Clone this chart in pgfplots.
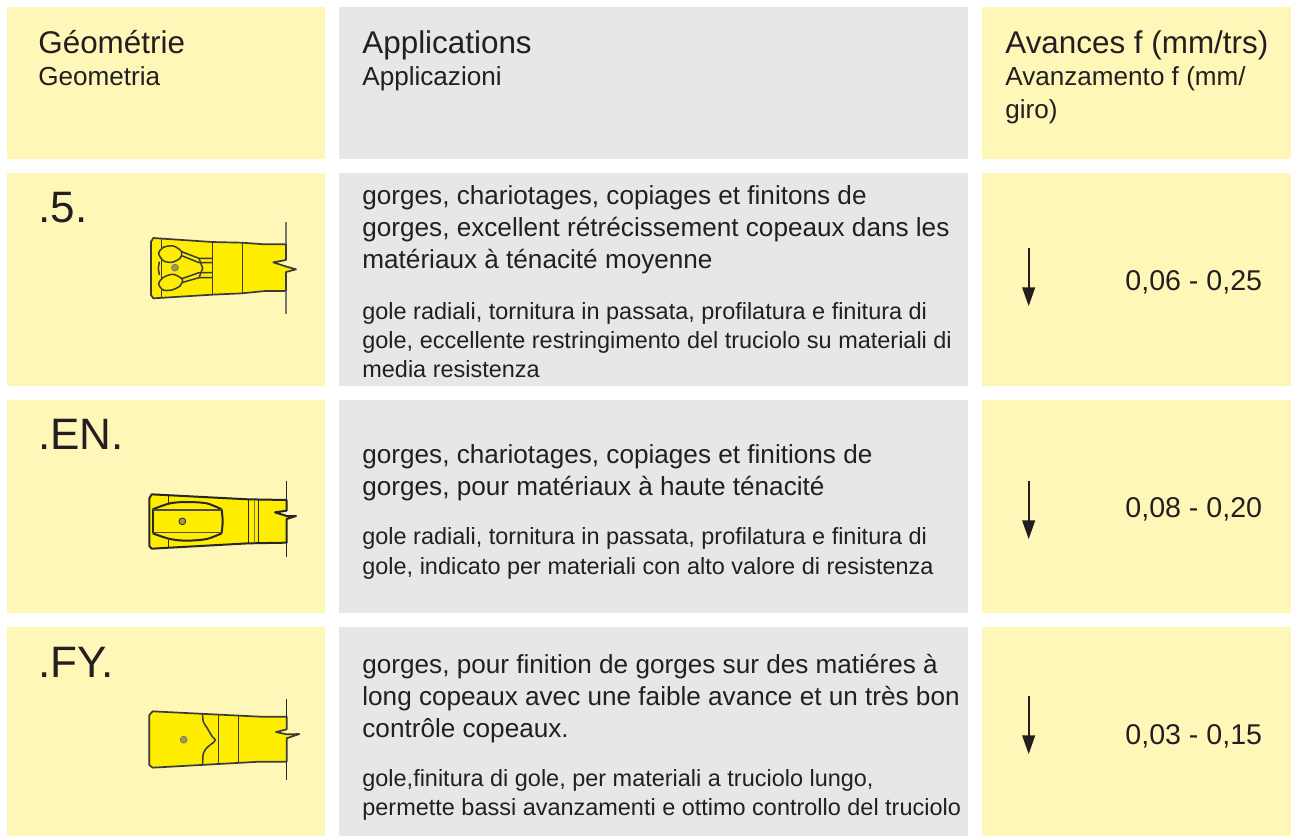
\documentclass[border=0pt]{standalone}
\usepackage{pgfplots}
\pgfplotsset{compat=1.18}
\usepackage{fontspec}
\setmainfont{Liberation Sans}
\definecolor{cy}{HTML}{FEF7B8}
\definecolor{cg}{HTML}{E6E7E8}
\definecolor{ci}{HTML}{FFED00}
\definecolor{ct}{HTML}{231F20}
\definecolor{cl}{HTML}{3A3A3C}
\definecolor{cv}{HTML}{77776F}
\newcommand\BT[3]{\node[anchor=base west,inner sep=0pt,text=ct,font=\fontsize{#1}{#1}\selectfont] at (axis cs:#2) {#3};}
\pgfplotsset{
  ia/.style={x filter/.expression={130+x/3},y filter/.expression={210+y/3}},
  ib/.style={x filter/.expression={130+x/3},y filter/.expression={470+y/3}},
  ic/.style={x filter/.expression={130+x/3},y filter/.expression={690+y/3}},
  box/.style={draw=none,fill=#1,mark=none,forget plot},
  ln/.style={draw=cl,line width=0.75pt,mark=none,forget plot},
  body/.style={draw=cl,line width=0.85pt,fill=ci,mark=none,forget plot,line join=round},
}
\begin{document}
\begin{tikzpicture}
\begin{axis}[scale only axis,width=645.5pt,height=418pt,xmin=0,xmax=1291,ymin=0,ymax=836,y dir=reverse,hide axis,clip=true]
% background
\addplot[box=white] coordinates {(0,0)(1291,0)(1291,836)(0,836)} --cycle;
% header row
\addplot[box=cy] coordinates {(7,7)(325,7)(325,159)(7,159)} --cycle;
\addplot[box=cg] coordinates {(339,7)(968,7)(968,159)(339,159)} --cycle;
\addplot[box=cy] coordinates {(982,7)(1291,7)(1291,159)(982,159)} --cycle;
% row 1
\addplot[box=cy] coordinates {(7,173)(325,173)(325,386)(7,386)} --cycle;
\addplot[box=cg] coordinates {(339,173)(968,173)(968,386)(339,386)} --cycle;
\addplot[box=cy] coordinates {(982,173)(1291,173)(1291,386)(982,386)} --cycle;
% row 2
\addplot[box=cy] coordinates {(7,400)(325,400)(325,613)(7,613)} --cycle;
\addplot[box=cg] coordinates {(339,400)(968,400)(968,613)(339,613)} --cycle;
\addplot[box=cy] coordinates {(982,400)(1291,400)(1291,613)(982,613)} --cycle;
% row 3
\addplot[box=cy] coordinates {(7,627)(325,627)(325,836)(7,836)} --cycle;
\addplot[box=cg] coordinates {(339,627)(968,627)(968,836)(339,836)} --cycle;
\addplot[box=cy] coordinates {(982,627)(1291,627)(1291,836)(982,836)} --cycle;

% icon 1
\addplot[ia,body] coordinates {(63,95)(70,84)(247,96)(335,98)(405,103)(468,103)(468,150)(430,157)(470,170)(498,178)(468,186)(468,243)(405,243)(335,250)(247,254)(70,265)(63,255)} --cycle;
\addplot[ia,draw=cv,line width=1pt,mark=none,forget plot] coordinates {(468,37)(468,103)};
\addplot[ia,draw=cv,line width=1pt,mark=none,forget plot] coordinates {(468,243)(468,311)};
\addplot[ia,ln] coordinates {(94,85)(94,263)};
\addplot[ia,ln] coordinates {(247,96)(247,254)};
\addplot[ia,ln] coordinates {(337,98)(337,250)};
\addplot[ia,ln] coordinates {(155,125)(207,145)(247,145)};
\addplot[ia,ln] coordinates {(150,135)(207,158)(247,158)};
\addplot[ia,ln] coordinates {(155,218)(207,203)(247,203)};
\addplot[ia,ln] coordinates {(150,208)(207,188)(247,188)};
\addplot[ia,ln] coordinates {(207,145)(218,175)(207,203)};
\addplot[ia,ln] coordinates {(88,155)(85,175)(88,195)};
\addplot[ia,ln,smooth cycle,fill=ci] coordinates {(86,130)(100,112)(130,108)(155,125)(150,145)(125,157)(100,152)};
\addplot[ia,ln,smooth cycle,fill=ci] coordinates {(86,222)(100,202)(130,193)(157,208)(150,228)(125,240)(100,240)};
\addplot[ia,only marks,mark=*,mark size=1.7pt,mark options={fill=cv!70!ci,draw=cv},forget plot] coordinates {(135,173)};

% icon 2
\addplot[ib,body,draw=black!85,line width=1pt] coordinates {(58,85)(65,73)(355,88)(470,90)(470,122)(435,127)(470,138)(498,138)(470,147)(470,218)(355,220)(65,236)(58,228)} --cycle;
\addplot[ib,draw=black!85,line width=0.8pt,mark=none,forget plot] coordinates {(470,33)(470,90)};
\addplot[ib,draw=black!85,line width=0.8pt,mark=none,forget plot] coordinates {(470,218)(470,260)};
\addplot[ib,ln,draw=black!85] coordinates {(355,88)(355,220)};
\addplot[ib,draw=cv,line width=0.7pt,mark=none,forget plot] coordinates {(373,89)(373,219)};
\addplot[ib,ln,draw=black!85] coordinates {(385,90)(385,219)};
\addplot[ib,ln,draw=black!85] coordinates {(115,75)(115,98)};
\addplot[ib,ln,draw=black!85] coordinates {(115,210)(115,232)};
\addplot[ib,ln,draw=black!85,line width=1pt,smooth] coordinates {(68,118)(120,100)(170,96)(230,100)(275,118)};
\addplot[ib,ln,draw=black!85,line width=1pt,smooth] coordinates {(275,118)(278,154)(275,190)};
\addplot[ib,ln,draw=black!85,line width=1pt,smooth] coordinates {(275,190)(230,207)(170,212)(120,207)(68,190)};
\addplot[ib,ln,draw=black!85,line width=1pt] coordinates {(68,118)(68,190)};
\addplot[ib,ln,draw=black!70] coordinates {(68,120)(275,120)};
\addplot[ib,ln,draw=black!70] coordinates {(68,187)(275,187)};
\addplot[ib,only marks,mark=*,mark size=1.7pt,mark options={fill=cv!70!ci,draw=black!85},forget plot] coordinates {(157,154)};

% icon 3
\addplot[ic,body] coordinates {(58,75)(68,64)(390,80)(470,80)(470,118)(438,126)(470,133)(508,132)(470,145)(470,215)(390,215)(68,233)(58,225)} --cycle;
\addplot[ic,draw=black!85,line width=0.8pt,mark=none,forget plot] coordinates {(470,27)(470,80)};
\addplot[ic,draw=black!85,line width=0.8pt,mark=none,forget plot] coordinates {(470,215)(470,270)};
\addplot[ic,ln] coordinates {(266,72)(266,222)};
\addplot[ic,ln] coordinates {(325,76)(325,219)};
\addplot[ic,ln,smooth] coordinates {(218,72)(220,95)(232,115)(247,140)(256,150)(247,160)(232,172)(220,190)(218,226)};
\addplot[ic,only marks,mark=*,mark size=1.7pt,mark options={fill=cv!70!ci,draw=cv},forget plot] coordinates {(161,149)};

% arrows
\addplot[draw=ct,line width=1.2pt,mark=none,forget plot] coordinates {(1028.7,248)(1028.7,290)};
\addplot[box=ct] coordinates {(1022,287.3)(1035.3,287.3)(1028.7,306)} --cycle;
\addplot[draw=ct,line width=1.2pt,mark=none,forget plot] coordinates {(1028.7,481)(1028.7,523)};
\addplot[box=ct] coordinates {(1022,520.3)(1035.3,520.3)(1028.7,539)} --cycle;
\addplot[draw=ct,line width=1.2pt,mark=none,forget plot] coordinates {(1028.7,696)(1028.7,738)};
\addplot[box=ct] coordinates {(1022,735.3)(1035.3,735.3)(1028.7,754)} --cycle;

% headers
\BT{15.7}{38,53}{Géométrie}
\BT{13.05}{38,85}{Geometria}
\BT{15.7}{362,53}{Applications}
\BT{13.05}{362,85}{Applicazioni}
\BT{15.7}{1005,53}{Avances f (mm/trs)}
\BT{13.05}{1005,85}{Avanzamento f (mm/}
\BT{13.05}{1005,118}{giro)}
% geometry labels
\BT{22}{38,222}{.5.}
\BT{22}{38,449}{.EN.}
\BT{22}{38,677}{.FY.}
% row 1 text
\BT{13.07}{362,204}{gorges, chariotages, copiages et finitons de}
\BT{13.07}{362,236}{gorges, excellent rétrécissement copeaux dans les}
\BT{13.07}{362,268}{matériaux à ténacité moyenne}
\BT{11.73}{362,319}{gole radiali, tornitura in passata, profilatura e finitura di}
\BT{11.73}{362,348}{gole, eccellente restringimento del truciolo su materiali di}
\BT{11.73}{362,377}{media resistenza}
% row 2 text
\BT{13.07}{362,463}{gorges, chariotages, copiages et finitions de}
\BT{13.07}{362,495}{gorges, pour matériaux à haute ténacité}
\BT{11.73}{362,544}{gole radiali, tornitura in passata, profilatura e finitura di}
\BT{11.73}{362,574}{gole, indicato per materiali con alto valore di resistenza}
% row 3 text
\BT{13.07}{362,673}{gorges, pour finition de gorges sur des matiéres à}
\BT{13.07}{362,705}{long copeaux avec une faible avance et un très bon}
\BT{13.07}{362,737}{contrôle copeaux.}
\BT{11.73}{362,786}{gole,finitura di gole, per materiali a truciolo lungo,}
\BT{11.73}{362,815}{permette bassi avanzamenti e ottimo controllo del truciolo}
% feed values
\BT{14.3}{1125,290}{0,06 - 0,25}
\BT{14.3}{1125,517}{0,08 - 0,20}
\BT{14.3}{1125,744}{0,03 - 0,15}
\end{axis}
\end{tikzpicture}
\end{document}
